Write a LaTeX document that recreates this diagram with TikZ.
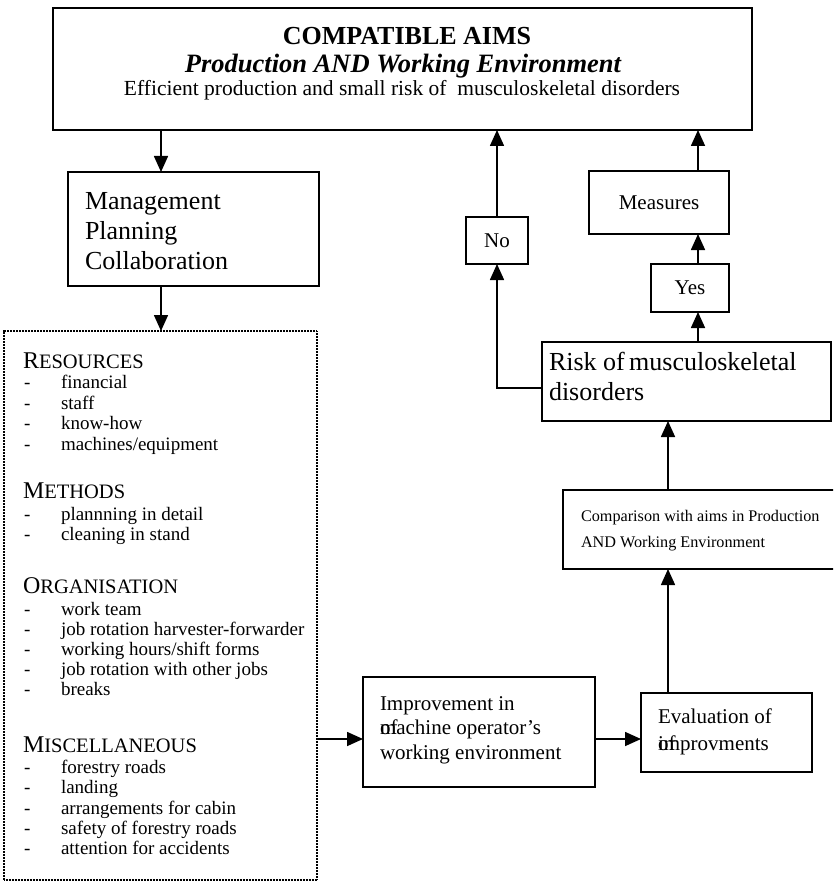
\documentclass[tikz,border=0pt]{standalone}
\usepackage{fontspec}
\setmainfont{Liberation Serif}
\usetikzlibrary{arrows.meta}
\newcommand\fsTitle{\fontsize{26}{30}\selectfont}
\newcommand\fsSub{\fontsize{26.5}{30}\selectfont}
\newcommand\fsLine{\fontsize{21.5}{24}\selectfont}
\newcommand\fsBig{\fontsize{26}{30}\selectfont}
\newcommand\fsMid{\fontsize{21}{24}\selectfont}
\newcommand\fsCmp{\fontsize{16.2}{20}\selectfont}
\newcommand\fsItem{\fontsize{19}{20}\selectfont}
\newcommand\schead[2]{{\fontsize{24}{24}\selectfont #1}{\fontsize{20.5}{20}\selectfont #2}}
\begin{document}
\begin{tikzpicture}[x=1pt,y=-1pt,
  box/.style={draw, line width=1.6pt, inner sep=0pt, outer sep=0pt, anchor=north west},
  dotbox/.style={draw, line width=1.4pt, dash pattern=on 0.8pt off 0.7pt, inner sep=0pt, outer sep=0pt, anchor=north west},
  arr/.style={line width=1.6pt, -{Triangle[width=14pt,length=16pt]}},
  txt/.style={inner sep=0pt, outer sep=0pt, anchor=base west},
  ctxt/.style={inner sep=0pt, outer sep=0pt, anchor=base},
]
\useasboundingbox (0,0) rectangle (833,885);
\clip (0,0) rectangle (833,885);

% boxes
\node[box, minimum width=699, minimum height=122] (top) at (53,8) {};
\node[box, minimum width=251, minimum height=114] (mgmt) at (68,172) {};
\node[dotbox, minimum width=313, minimum height=549] (dot) at (4,331) {};
\node[box, minimum width=232, minimum height=110] (imp) at (363,677) {};
\node[box, minimum width=171, minimum height=79] (eval) at (641,693) {};
\node[box, minimum width=300, minimum height=79] (comp) at (563,490) {};
\node[box, minimum width=289, minimum height=79] (risk) at (542,342) {};
\node[box, minimum width=78, minimum height=48] (yes) at (651,264) {};
\node[box, minimum width=140, minimum height=63] (meas) at (589,171) {};
\node[box, minimum width=62, minimum height=47] (no) at (466,217) {};

% top box text
\node[ctxt] (t1) at (407,45) {\fsTitle\bfseries COMPATIBLE AIMS};
\node[ctxt] (t2) at (403,73) {\fsSub\bfseries\itshape Production AND Working Environment};
\node[ctxt] (t3) at (402,96) {\fsLine Efficient production and small risk of \ musculoskeletal disorders};

% management
\node[txt] (m1) at (85,210) {\fsBig Management};
\node[txt] (m2) at (85,240) {\fsBig Planning};
\node[txt] (m3) at (85,269) {\fsBig Collaboration};

% dotted box content
\node[txt] (h1) at (23,368) {\schead{R}{ESOURCES}};
\node[txt] (h2) at (23,498) {\schead{M}{ETHODS}};
\node[txt] (h3) at (23,593) {\schead{O}{RGANISATION}};
\node[txt] (h4) at (23,752) {\schead{M}{ISCELLANEOUS}};
\foreach \y/\t [count=\i] in {388/financial, 409/staff, 429/know-how, 450/machines{/}equipment,
  520/plannning in detail, 540/cleaning in stand,
  615/work team, 635/job rotation harvester-forwarder, 655/working hours{/}shift forms,
  675/job rotation with other jobs, 695/breaks,
  773/forestry roads, 793/landing, 814/arrangements for cabin, 834/safety of forestry roads,
  854/attention for accidents}{
  \node[txt] (d\i) at (24,\y) {\fsItem -};
  \node[txt] (it\i) at (61,\y) {\fsItem \t};
}

% improvement
\node[txt] (i1) at (380,710) {\fsMid Improvement in};
\node[txt] (i2) at (380,734) {\fsMid \rlap{of}machine operator’s};
\node[txt] (i3) at (380,759) {\fsMid working environment};

% evaluation
\node[txt] (e1) at (658,723) {\fsMid Evaluation of};
\node[txt] (e2) at (658,750) {\fsMid \rlap{of}improvments};

% comparison
\node[txt] (c1) at (581,521) {\fsCmp Comparison with aims in Production};
\node[txt] (c2) at (581,547) {\fsCmp AND Working Environment};

% risk
\node[txt] (r1) at (549,370) {\fsBig Risk of\,musculoskeletal};
\node[txt] (r2) at (549,400) {\fsBig disorders};

% yes / measures / no
\node[ctxt] (ty) at (yes.center) [anchor=center] {\fsMid Yes};
\node[ctxt] (tm) at (meas.center) [anchor=center] {\fsMid Measures};
\node[ctxt] (tn) at (no.center) [anchor=center] {\fsMid No};

% connectors
\coordinate (xa) at (161,0);
\coordinate (ya) at (0,739);
\coordinate (xc) at (668,0);
\coordinate (xy) at (698,0);
\coordinate (yr) at (0,388);

\draw[arr] (xa |- top.south) -- (xa |- mgmt.north);
\draw[arr] (xa |- mgmt.south) -- (xa |- dot.north);
\draw[arr] (dot.east |- ya) -- (imp.west |- ya);
\draw[arr] (imp.east |- ya) -- (eval.west |- ya);
\draw[arr] (xc |- eval.north) -- (xc |- comp.south);
\draw[arr] (xc |- comp.north) -- (xc |- risk.south);
\draw[arr] (xy |- risk.north) -- (xy |- yes.south);
\draw[arr] (xy |- yes.north) -- (xy |- meas.south);
\draw[arr] (xy |- meas.north) -- (xy |- top.south);
\draw[arr] (risk.west |- yr) -| (no.south);
\draw[arr] (no.north) -- (no.north |- top.south);
\end{tikzpicture}
\end{document}
